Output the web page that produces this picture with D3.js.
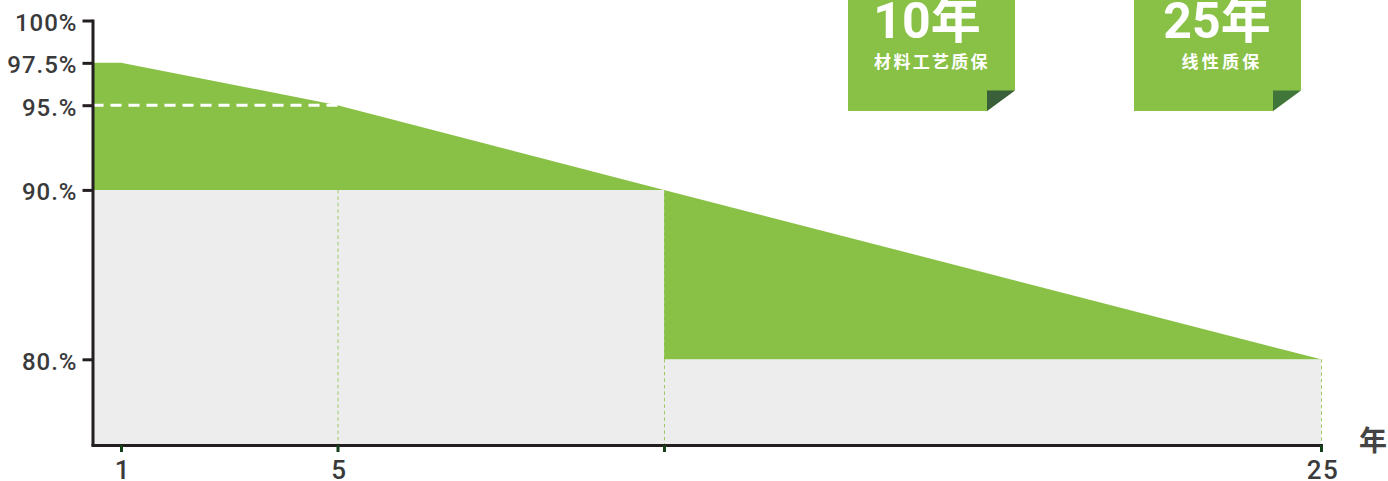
<!DOCTYPE html>
<html>
<head>
<meta charset="utf-8">
<script src="https://cdn.jsdelivr.net/npm/d3@7"></script>
<style>
  html, body { margin: 0; padding: 0; background: #fff; overflow: hidden; }
  text { font-family: Roboto, "Noto Sans CJK SC", sans-serif; }
</style>
</head>
<body>
<div id="chart"></div>
<script>
// warranty curve, year -> percent
const lineYears = [0, 1, 5, 10, 25];
const lineValues = [97.5, 97.5, 95, 90, 80];
// stepped floor of the green band
const floorYears = [0, 10, 10, 25];
const floorValues = [90, 90, 80, 80];
const yTicks = [100, 97.5, 95, 90, 80];
const yTickLabels = ['100%', '97.5%', '95.%', '90.%', '80.%'];
const xTicks = [1, 5, 10, 25];
const xTickLabels = ['1', '5', '', '25'];
const dropYears = [5, 10, 25];
const badgeYears = ['10年', '25年'];
const badgeNames = ['材料工艺质保', '线性质保'];

const green = '#89c146';
const grey = '#ededed';
const axisColor = '#231f20';
const textColor = '#3a3a3a';

const svg = d3.select('#chart').append('svg')
  .attr('width', 1388)
  .attr('height', 481)
  .style('display', 'block');

// the year axis in the picture is not even, so the scale is piecewise
const x = d3.scaleLinear().domain([0, 1, 5, 10, 25]).range([92.5, 121, 337.5, 664, 1321]);
const y = d3.scaleLinear().domain([75, 100]).range([444, 20.5]);

// grey floor
svg.append('path')
  .datum(floorYears.map((d, i) => [d, floorValues[i]]))
  .attr('fill', grey)
  .attr('d', d3.area().x(d => x(d[0])).y0(y(75)).y1(d => y(d[1])));

// green band between curve and floor
const upperEdge = lineYears.map((d, i) => [d, lineValues[i]]);
const lowerEdge = floorYears.map((d, i) => [d, floorValues[i]]).reverse();
svg.append('path')
  .datum(upperEdge.concat(lowerEdge))
  .attr('fill', green)
  .attr('d', d3.line().x(d => x(d[0])).y(d => y(d[1])));

// dropped dotted lines
svg.selectAll('.drop')
  .data(dropYears)
  .enter()
  .append('line')
  .attr('class', 'drop')
  .attr('x1', d => x(d) + 0.5)
  .attr('x2', d => x(d) + 0.5)
  .attr('y1', d => y(d === 25 ? 80 : 90))
  .attr('y2', y(75))
  .attr('stroke', '#9bcb62')
  .attr('stroke-width', 1)
  .attr('stroke-dasharray', '3.5 3');

// white dashed guide at 95
svg.append('line')
  .attr('x1', x(0))
  .attr('x2', x(5) + 2)
  .attr('y1', y(95))
  .attr('y2', y(95))
  .attr('stroke', '#fff')
  .attr('stroke-width', 3)
  .attr('stroke-dasharray', '11 7');

const yAxis = d3.axisLeft(y)
  .tickValues(yTicks)
  .tickFormat((d, i) => yTickLabels[i])
  .tickSize(10)
  .tickSizeOuter(0)
  .tickPadding(5);

const xAxis = d3.axisBottom(x)
  .tickValues(xTicks)
  .tickFormat((d, i) => xTickLabels[i])
  .tickSize(7)
  .tickSizeOuter(0)
  .tickPadding(9);

const gy = svg.append('g')
  .attr('transform', 'translate(92.5,0)')
  .call(yAxis);
gy.select('.domain').attr('stroke', axisColor).attr('stroke-width', 3).attr('stroke-linecap', 'square');
gy.selectAll('.tick line').attr('stroke', axisColor).attr('stroke-width', 3);
gy.selectAll('.tick text')
  .attr('fill', textColor)
  .attr('dy', '0.42em')
  .style('font-size', '24px')
  .style('font-weight', 500)
  .style('letter-spacing', '1px');

const gx = svg.append('g')
  .attr('transform', 'translate(0,445)')
  .call(xAxis);
gx.select('.domain').attr('stroke', axisColor).attr('stroke-width', 3).attr('stroke-linecap', 'square');
gx.selectAll('.tick line').attr('stroke', '#14401c').attr('stroke-width', 3);
gx.selectAll('.tick text')
  .attr('fill', textColor)
  .attr('dx', 1.5)
  .style('font-size', '26px')
  .style('font-weight', 500)
  .style('letter-spacing', '1.5px');

svg.append('text')
  .attr('x', 1373)
  .attr('y', 451)
  .attr('text-anchor', 'middle')
  .attr('fill', '#444')
  .style('font-size', '28px')
  .style('font-weight', 700)
  .text('年');

// badges with a folded corner
const badgeX = [848, 1134];
const foldColors = ['#3a5f3b', '#41763a'];
const badgeTitleX = [79, 83];
const badgeNameX = [84, 88];
const badgeNameSpacing = [2.3, 3.2];
badgeYears.forEach((label, i) => {
  const g = svg.append('g').attr('transform', 'translate(' + badgeX[i] + ',0)');
  g.append('polygon')
    .attr('points', '0,0 167,0 167,90 139,111 0,111')
    .attr('fill', green);
  g.append('polygon')
    .attr('points', '139,90.5 167,90.5 139,111')
    .attr('fill', foldColors[i]);
  g.append('text')
    .attr('x', badgeTitleX[i])
    .attr('y', 38)
    .attr('text-anchor', 'middle')
    .attr('fill', '#fff')
    .style('font-size', '50px')
    .style('font-weight', 700)
    .text(label);
  g.append('text')
    .attr('x', badgeNameX[i])
    .attr('y', 68)
    .attr('text-anchor', 'middle')
    .attr('fill', '#fff')
    .style('font-size', '17px')
    .style('font-weight', 700)
    .style('letter-spacing', badgeNameSpacing[i] + 'px')
    .text(badgeNames[i]);
});
</script>
</body>
</html>
